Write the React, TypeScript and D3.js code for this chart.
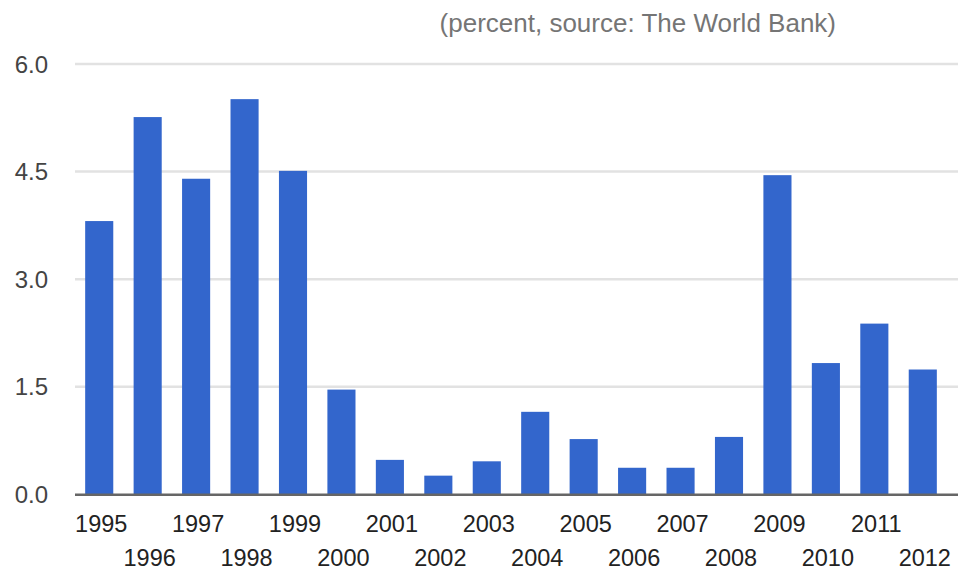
import React from "react";
import * as d3 from "d3";

const years = ["1995","1996","1997","1998","1999","2000","2001","2002","2003","2004","2005","2006","2007","2008","2009","2010","2011","2012"];
const values = [3.81, 5.26, 4.40, 5.51, 4.51, 1.46, 0.48, 0.26, 0.46, 1.15, 0.77, 0.37, 0.37, 0.80, 4.45, 1.83, 2.38, 1.74];
const yTicks = [0, 1.5, 3.0, 4.5, 6.0];
const title = "(percent, source: The World Bank)";

const W = 958;
const H = 570;

export default function App() {
  const x = d3.scaleBand<string>().domain(years).range([75, 947]).paddingInner(0.42).paddingOuter(0.21);
  const y = d3.scaleLinear().domain([0, 6]).range([494.3, 64]);
  const font = "'Liberation Sans', Arial, sans-serif";
  return (
    <svg width={W} height={H} style={{ position: "absolute", left: 0, top: 0, background: "#fff" }}>
      <text x={836} y={32} textAnchor="end" fontFamily={font} fontSize={26} fill="#757575">{title}</text>
      {yTicks.map((t) => (
        <g key={t}>
          {t !== 0 && <line x1={75} x2={958} y1={y(t)} y2={y(t)} stroke="#e2e2e2" strokeWidth={2.5} />}
          <text x={48} y={y(t) + 8.5} textAnchor="end" fontFamily={font} fontSize={24} fill="#444">{t.toFixed(1)}</text>
        </g>
      ))}
      {years.map((yr, i) => (
        <rect key={yr} x={x(yr)} y={y(values[i])} width={x.bandwidth()} height={y(0) - y(values[i])} fill="#3366cc" />
      ))}
      <line x1={75} x2={958} y1={y(0) + 0.5} y2={y(0) + 0.5} stroke="#666" strokeWidth={2.5} />
      {years.map((yr, i) => (
        <text key={yr} x={(x(yr) as number) + x.bandwidth() / 2 + 2} y={i % 2 === 0 ? 532 : 566} textAnchor="middle" fontFamily={font} fontSize={23.5} fill="#222">{yr}</text>
      ))}
    </svg>
  );
}
